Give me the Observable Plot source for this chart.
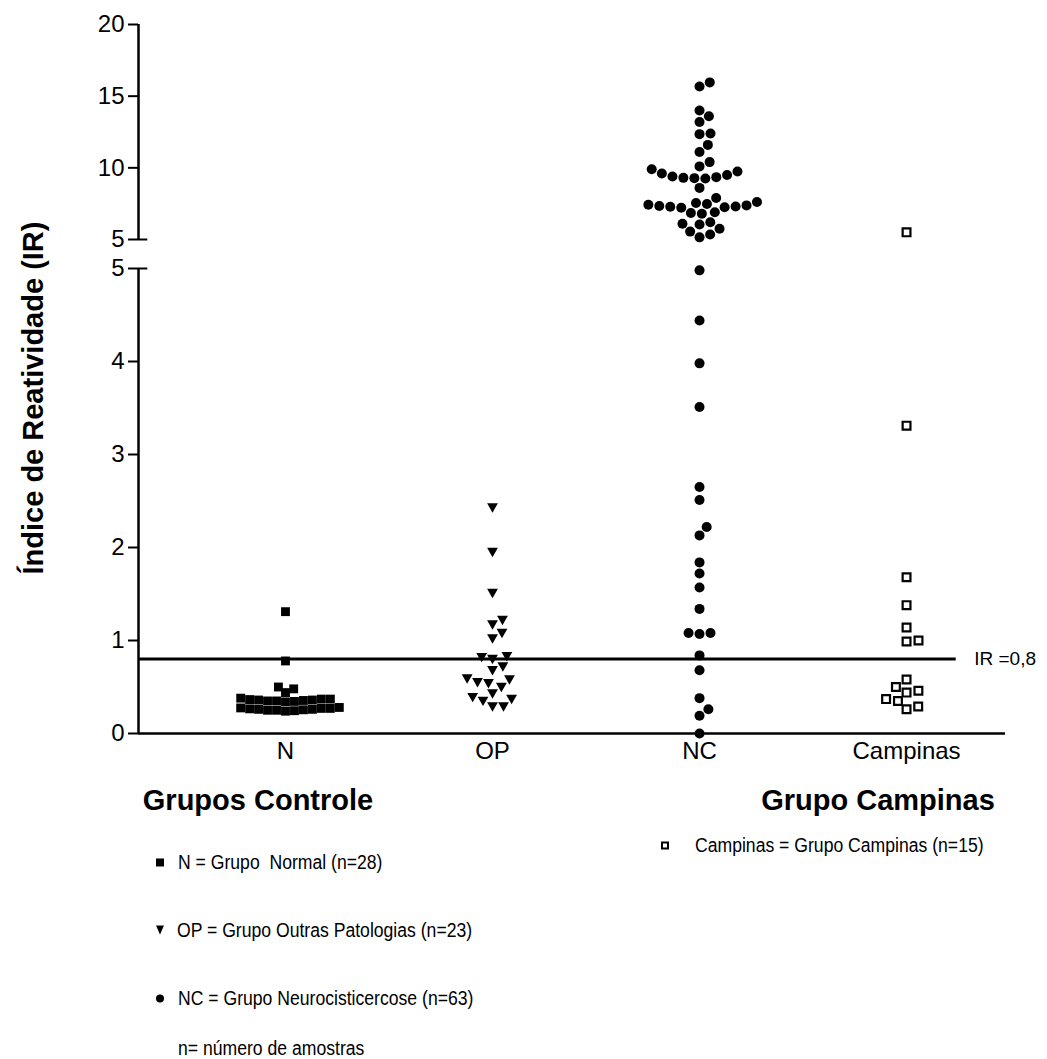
<!DOCTYPE html>
<html>
<head>
<meta charset="utf-8">
<script src="https://cdn.jsdelivr.net/npm/d3@7"></script>
<script src="https://cdn.jsdelivr.net/npm/@observablehq/plot@0.6"></script>
<style>
  body { margin: 0; background: #fff; }
  #wrap { position: relative; width: 1047px; height: 1059px; background: #fff; overflow: hidden;
          font-family: "Liberation Sans", Arial, sans-serif; color: #000; }
  #chart { position: absolute; left: 0; top: 0; }
  .ylab { position: absolute; left: 33px; top: 398px; transform: translate(-50%, -50%) rotate(-90deg);
          font-weight: bold; font-size: 29px; white-space: nowrap; }
  .hd { position: absolute; transform: translate(-50%, -50%); font-weight: bold; font-size: 29px; white-space: nowrap; }
  .lg { position: absolute; transform: translateY(-50%); display: flex; align-items: center; white-space: pre; }
  .lg .tx { display: inline-block; font-size: 20px; transform: scaleX(0.88); transform-origin: left center; }
  .sym { display: inline-block; box-sizing: border-box; }
  .sq { width: 8px; height: 8px; background: #000; margin-right: 14px; }
  .tri { width: 0; height: 0; border-left: 4.5px solid transparent; border-right: 4.5px solid transparent;
         border-top: 9px solid #000; margin-right: 13px; margin-left: -0.5px; }
  .ci { width: 8px; height: 8px; border-radius: 50%; background: #000; margin-right: 14px; }
  .osq { width: 8px; height: 8px; border: 2px solid #000; background: #fff; margin-right: 26px; }
</style>
</head>
<body>
<div id="wrap">
  <div id="chart"></div>
  <div class="ylab">Índice de Reatividade (IR)</div>
  <div class="hd" style="left:258px; top:800px;">Grupos Controle</div>
  <div class="hd" style="left:878px; top:800px;">Grupo Campinas</div>
  <div class="lg" style="left:661px; top:845px;"><span class="sym osq"></span><span class="tx">Campinas = Grupo Campinas (n=15)</span></div>
  <div class="lg" style="left:156px; top:862px;"><span class="sym sq"></span><span class="tx">N = Grupo  Normal (n=28)</span></div>
  <div class="lg" style="left:156px; top:930px;"><span class="sym tri"></span><span class="tx">OP = Grupo Outras Patologias (n=23)</span></div>
  <div class="lg" style="left:156px; top:998px;"><span class="sym ci"></span><span class="tx">NC = Grupo Neurocisticercose (n=63)</span></div>
  <div class="lg" style="left:178px; top:1048px;"><span class="tx">n= número de amostras</span></div>
</div>
<script>
// ---------------- data ----------------
const categories = ["N", "OP", "NC", "Campinas"];

const valuesN = [1.31, 0.78, 0.50, 0.48, 0.44,
  0.38, 0.37, 0.37, 0.365, 0.36, 0.36, 0.355, 0.35, 0.35, 0.345, 0.34,
  0.28, 0.275, 0.27, 0.27, 0.265, 0.26, 0.26, 0.255, 0.25, 0.25, 0.245, 0.24];

const valuesOP = [2.43, 1.95, 1.51, 1.22, 1.17, 1.08, 1.02, 0.83, 0.82, 0.80,
  0.72, 0.68, 0.59, 0.58, 0.55, 0.54, 0.50, 0.43, 0.39, 0.37, 0.35, 0.29, 0.29];

const valuesNC = [
  15.96, 15.68, 14.0, 13.6, 13.2, 12.4, 12.35, 11.6, 11.1, 10.4, 10.1,
  9.9, 9.75, 9.6, 9.5, 9.4, 9.35, 9.3, 9.28, 9.25,
  8.6, 7.9,
  7.62, 7.55, 7.48, 7.42, 7.38, 7.34, 7.3, 7.28, 7.25, 7.22,
  6.9, 6.85, 6.8, 6.2, 6.1, 6.05, 5.75, 5.55, 5.35, 5.15,
  4.98, 4.44, 3.98, 3.51, 2.65, 2.51, 2.22, 2.13, 1.84, 1.72, 1.57, 1.34,
  1.08, 1.08, 1.07, 0.84, 0.68, 0.38, 0.26, 0.19, 0.0];

const valuesCampinas = [5.5, 3.31, 1.68, 1.38, 1.14, 1.0, 0.99, 0.58, 0.50,
  0.46, 0.44, 0.37, 0.35, 0.29, 0.26];

const IR_CUTOFF = 0.8;
const IR_LABEL = "IR =0,8";

// broken y axis: lower segment 0–5, upper segment 5–20
const BREAK_LO = 5;
const BREAK_HI = 5.000001;   // "5" at the foot of the upper segment
const Y_MAX = 20;
const yTicks = [0, 1, 2, 3, 4, BREAK_LO, BREAK_HI, 10, 15, Y_MAX];

// ---------------- layout ----------------
const W = 1047, H = 775;
const M = {top: 24, right: 42, bottom: 42, left: 138};
const Y_DOMAIN = [0, BREAK_LO, BREAK_HI, Y_MAX];
const Y_RANGE = [H - M.bottom, 268, 239, M.top];
const X_MIN = -0.71, X_MAX = 3.478;
const IR_LINE_END = 3.24;
const CAP = 0.045;
const PX_PER_X = (W - M.left - M.right) / (X_MAX - X_MIN);
const FONT = "'Liberation Sans', Arial, sans-serif";

// beeswarm layout of each column (like a column scatter plot)
const yPx = d3.scaleLinear().domain(Y_DOMAIN).range(Y_RANGE);
function swarm(values, index, diameter) {
  const pts = values.map(v => ({v, y: yPx(v)})).sort((a, b) => a.v - b.v);
  const placed = [];
  const d2 = diameter * diameter;
  for (const p of pts) {
    const cands = [0];
    for (const q of placed) {
      const dy = Math.abs(p.y - q.y);
      if (dy < diameter) {
        const dx = Math.sqrt(d2 - dy * dy);
        cands.push(q.x + dx, q.x - dx);
      }
    }
    cands.sort((a, b) => (Math.abs(a) - Math.abs(b)) || (b - a));
    let xb = 0;
    for (const c of cands) {
      if (placed.every(q => (c - q.x) ** 2 + (p.y - q.y) ** 2 >= d2 - 1e-6)) { xb = c; break; }
    }
    placed.push({x: xb, y: p.y, v: p.v});
  }
  return placed.map(q => ({group: categories[index], value: q.v, x: index + q.x / PX_PER_X}));
}

const dataN = swarm(valuesN, 0, 9);
const dataOP = swarm(valuesOP, 1, 11);
const dataNC = swarm(valuesNC, 2, 11);
const dataC = swarm(valuesCampinas, 3, 12);

const triangleDown = {
  draw(context, size) {
    const r = Math.sqrt(size / Math.PI);
    context.moveTo(-r, -0.8 * r);
    context.lineTo(r, -0.8 * r);
    context.lineTo(0, 0.95 * r);
    context.closePath();
  }
};

const axisSegments = [{y1: 0, y2: BREAK_LO}, {y1: BREAK_HI, y2: Y_MAX}];

const chart = Plot.plot({
  width: W, height: H,
  marginTop: M.top, marginRight: M.right, marginBottom: M.bottom, marginLeft: M.left,
  style: {background: "white", color: "black", fontFamily: FONT, overflow: "visible"},
  x: {domain: [X_MIN, X_MAX]},
  y: {type: "linear", domain: Y_DOMAIN, range: Y_RANGE},
  marks: [
    Plot.axisY({ticks: yTicks, tickFormat: d => String(Math.round(d)), tickSize: 10, tickPadding: 4,
                strokeWidth: 2, fontSize: 24, label: null}),
    Plot.axisX({ticks: [0, 1, 2, 3], tickFormat: i => categories[i], tickSize: 0, tickPadding: 8,
                fontSize: 24, label: null}),
    Plot.ruleX(axisSegments, {x: () => X_MIN, y1: "y1", y2: "y2", strokeWidth: 2.5}),
    Plot.ruleY([BREAK_LO, BREAK_HI], {x1: () => X_MIN, x2: () => X_MIN + CAP, strokeWidth: 2}),
    Plot.ruleY([0], {strokeWidth: 2.5}),
    Plot.ruleY([IR_CUTOFF], {x1: () => X_MIN, x2: () => IR_LINE_END, strokeWidth: 3}),
    Plot.text([IR_CUTOFF], {x: () => IR_LINE_END, y: d => d, text: () => IR_LABEL, dx: 18,
                            textAnchor: "start", fontSize: 19}),
    Plot.dot(dataN, {x: "x", y: "value", symbol: "square", r: 5, fill: "black"}),
    Plot.dot(dataOP, {x: "x", y: "value", symbol: triangleDown, r: 5.4, fill: "black"}),
    Plot.dot(dataNC, {x: "x", y: "value", symbol: "circle", r: 5, fill: "black"}),
    Plot.dot(dataC, {x: "x", y: "value", symbol: "square", r: 4.4, fill: "white", stroke: "black", strokeWidth: 2.2})
  ]
});
document.getElementById("chart").appendChild(chart);
</script>
</body>
</html>
